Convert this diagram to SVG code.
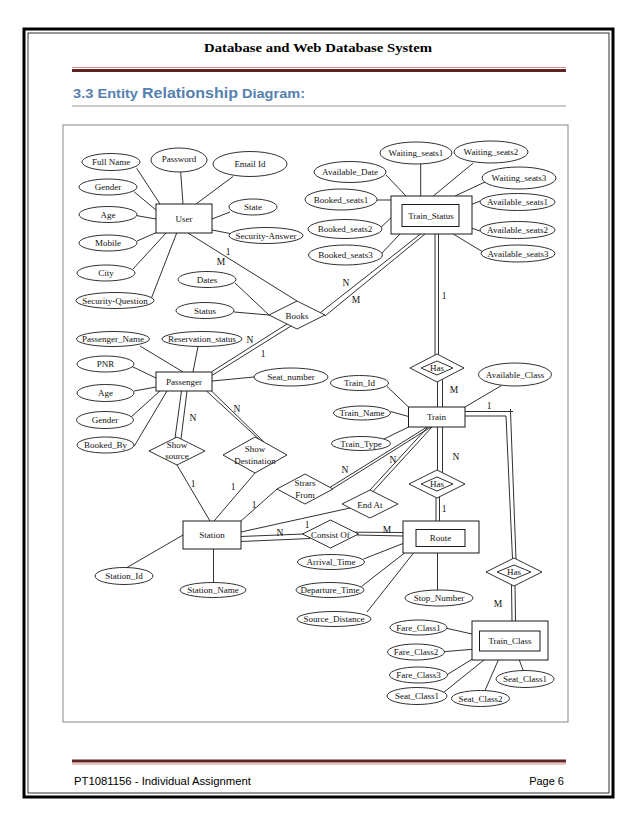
<svg xmlns="http://www.w3.org/2000/svg" width="638" height="826" viewBox="0 0 638 826">
<style>
.ent{fill:#fff;stroke:#1a1a1a;stroke-width:1}
.att{fill:#fff;stroke:#1a1a1a;stroke-width:0.9}
.rel{fill:#fff;stroke:#1a1a1a;stroke-width:0.9}
.ln{stroke:#1a1a1a;stroke-width:0.9;fill:none}
.t{font-family:"Liberation Serif","Times New Roman",serif;font-size:9px;fill:#111;text-anchor:middle}
.lb{font-family:"Liberation Serif","Times New Roman",serif;font-size:9.5px;fill:#111;text-anchor:middle}
</style>
<rect width="638" height="826" fill="#fff"/>
<g id="page">
<rect x="24" y="29" width="589" height="768" fill="none" stroke="#000" stroke-width="3"/>
<rect x="28" y="33" width="581" height="760" fill="none" stroke="#000" stroke-width="0.8"/>
<text x="318" y="52" font-family="Liberation Serif,serif" font-weight="bold" font-size="13" text-anchor="middle" textLength="228" lengthAdjust="spacingAndGlyphs" fill="#000">Database and Web Database System</text>
<line x1="72" y1="67.5" x2="566" y2="67.5" stroke="#c9908c" stroke-width="1"/>
<line x1="72" y1="70.5" x2="566" y2="70.5" stroke="#622423" stroke-width="3"/>
<text x="73" y="98" font-family="Liberation Sans,sans-serif" font-weight="bold" font-size="12.5" fill="#5580b0" textLength="65" lengthAdjust="spacingAndGlyphs">3.3 Entity</text>
<text x="142" y="98" font-family="Liberation Sans,sans-serif" font-weight="bold" font-size="15.5" fill="#5580b0" textLength="96" lengthAdjust="spacingAndGlyphs">Relationship</text>
<text x="242" y="98" font-family="Liberation Sans,sans-serif" font-weight="bold" font-size="12.5" fill="#5580b0" textLength="63" lengthAdjust="spacingAndGlyphs">Diagram:</text>
<line x1="72" y1="106" x2="566" y2="106" stroke="#999" stroke-width="1"/>
<rect x="63" y="125" width="505" height="597" fill="none" stroke="#888" stroke-width="1"/>
<line x1="72" y1="761" x2="566" y2="761" stroke="#622423" stroke-width="3"/>
<line x1="72" y1="764" x2="566" y2="764" stroke="#c9908c" stroke-width="1"/>
<text x="74" y="785" font-family="Liberation Sans,sans-serif" font-size="11" fill="#000" textLength="177" lengthAdjust="spacingAndGlyphs">PT1081156 - Individual Assignment</text>
<text x="564" y="785" font-family="Liberation Sans,sans-serif" font-size="11" fill="#000" text-anchor="end">Page 6</text>
</g>

<g id="connectors">
<line class="ln" x1="136.7" y1="168.3" x2="160" y2="204"/>
<line class="ln" x1="180.7" y1="172" x2="183" y2="204"/>
<line class="ln" x1="233" y1="176.5" x2="196" y2="204"/>
<line class="ln" x1="134" y1="191.7" x2="156" y2="210"/>
<line class="ln" x1="137" y1="215.7" x2="156" y2="219"/>
<line class="ln" x1="137" y1="241" x2="156" y2="232.7"/>
<line class="ln" x1="133" y1="269" x2="166" y2="233"/>
<line class="ln" x1="150" y1="301.7" x2="176.7" y2="233"/>
<line class="ln" x1="212" y1="219" x2="230" y2="212"/>
<line class="ln" x1="212" y1="230" x2="230" y2="233.5"/>
<line class="ln" x1="188" y1="233" x2="297" y2="301"/>
<line class="ln" x1="235" y1="283" x2="269" y2="315"/>
<line class="ln" x1="234" y1="312" x2="269" y2="315"/>
<line class="ln" x1="320.5" y1="312.5" x2="420.5" y2="234"/>
<line class="ln" x1="325" y1="316" x2="425" y2="234"/>
<line class="ln" x1="287" y1="324" x2="212" y2="371.5"/>
<line class="ln" x1="291" y1="326" x2="212" y2="375.4"/>
<line class="ln" x1="420.7" y1="164" x2="420.7" y2="196"/>
<line class="ln" x1="473.3" y1="163" x2="433.3" y2="196"/>
<line class="ln" x1="386" y1="175" x2="406" y2="196"/>
<line class="ln" x1="485" y1="182" x2="455" y2="196"/>
<line class="ln" x1="377" y1="200" x2="391" y2="200"/>
<line class="ln" x1="380" y1="228.3" x2="391" y2="217.7"/>
<line class="ln" x1="381.7" y1="253.3" x2="400" y2="234"/>
<line class="ln" x1="480" y1="201" x2="472" y2="204.3"/>
<line class="ln" x1="480" y1="231" x2="472" y2="228.3"/>
<line class="ln" x1="485" y1="253.3" x2="453.3" y2="234"/>
<line class="ln" x1="435" y1="234" x2="435" y2="355"/>
<line class="ln" x1="438.5" y1="234" x2="438.5" y2="354.8"/>
<line class="ln" x1="437.5" y1="382" x2="437.5" y2="407"/>
<line class="ln" x1="442.5" y1="379.4" x2="442.5" y2="407"/>
<line class="ln" x1="437.5" y1="427" x2="437.5" y2="470.3"/>
<line class="ln" x1="442.5" y1="427" x2="442.5" y2="472.6"/>
<line class="ln" x1="436" y1="498" x2="436" y2="521"/>
<line class="ln" x1="439.5" y1="496.8" x2="439.5" y2="521"/>
<polyline class="ln" points="465,411.5 513,411.5"/>
<polyline class="ln" points="510.5,409 510.5,411.5 516,559"/>
<polyline class="ln" points="465,416 506,416 512.5,559"/>
<line class="ln" x1="511.5" y1="585" x2="512" y2="621"/>
<line class="ln" x1="515" y1="585" x2="515.5" y2="621"/>
<line class="ln" x1="387" y1="386.5" x2="408.5" y2="407"/>
<line class="ln" x1="390.5" y1="411.5" x2="408.5" y2="416.5"/>
<line class="ln" x1="383" y1="439.5" x2="408.5" y2="427"/>
<line class="ln" x1="501.5" y1="385.5" x2="465" y2="407"/>
<line class="ln" x1="427" y1="427" x2="330" y2="487.4"/>
<line class="ln" x1="431" y1="427" x2="333" y2="488.5"/>
<line class="ln" x1="428" y1="427" x2="370" y2="490"/>
<line class="ln" x1="432" y1="427" x2="373" y2="491.5"/>
<line class="ln" x1="140" y1="346" x2="183" y2="372"/>
<line class="ln" x1="198" y1="346.5" x2="193" y2="372"/>
<line class="ln" x1="132" y1="366.5" x2="156" y2="378"/>
<line class="ln" x1="134" y1="391" x2="156" y2="387"/>
<line class="ln" x1="131" y1="417" x2="160" y2="391"/>
<line class="ln" x1="134" y1="446.5" x2="167" y2="391"/>
<line class="ln" x1="212" y1="381" x2="254" y2="377"/>
<line class="ln" x1="181.5" y1="391" x2="175" y2="438"/>
<line class="ln" x1="187" y1="391" x2="181" y2="439"/>
<line class="ln" x1="206.5" y1="391" x2="259" y2="439.3"/>
<line class="ln" x1="211.5" y1="391" x2="264" y2="442"/>
<line class="ln" x1="177" y1="465" x2="210" y2="521"/>
<line class="ln" x1="255" y1="473" x2="214" y2="521"/>
<line class="ln" x1="241" y1="521" x2="277" y2="489"/>
<line class="ln" x1="241" y1="532" x2="350" y2="508"/>
<line class="ln" x1="241" y1="536.5" x2="303" y2="534"/>
<line class="ln" x1="241" y1="541.5" x2="310" y2="538.5"/>
<line class="ln" x1="355" y1="532.2" x2="403" y2="532.5"/>
<line class="ln" x1="357" y1="535" x2="403" y2="536"/>
<line class="ln" x1="127" y1="567.5" x2="183" y2="535"/>
<line class="ln" x1="213.5" y1="549" x2="213.5" y2="582.5"/>
<line class="ln" x1="363.5" y1="559" x2="403" y2="543.5"/>
<line class="ln" x1="361.5" y1="586.5" x2="404.5" y2="553"/>
<line class="ln" x1="367" y1="612" x2="413.5" y2="553"/>
<line class="ln" x1="437.5" y1="553" x2="437.5" y2="590"/>
<line class="ln" x1="446.7" y1="628.3" x2="472" y2="634"/>
<line class="ln" x1="444" y1="651.7" x2="472" y2="649.3"/>
<line class="ln" x1="445" y1="676" x2="472" y2="659.3"/>
<line class="ln" x1="441.7" y1="694" x2="484" y2="660"/>
<line class="ln" x1="485" y1="690.5" x2="498.3" y2="660"/>
<line class="ln" x1="523.3" y1="670.7" x2="519.3" y2="660"/>
</g>

<g id="labels">
<text class="lb" x="228" y="254.5">1</text>
<text class="lb" x="221" y="264.5">M</text>
<text class="lb" x="346" y="285.5">N</text>
<text class="lb" x="356" y="302.5">M</text>
<text class="lb" x="250" y="342.5">N</text>
<text class="lb" x="263" y="356.5">1</text>
<text class="lb" x="444" y="298.5">1</text>
<text class="lb" x="454" y="392.5">M</text>
<text class="lb" x="489" y="408.5">1</text>
<text class="lb" x="456" y="459.5">N</text>
<text class="lb" x="444" y="511.5">1</text>
<text class="lb" x="498" y="606.5">M</text>
<text class="lb" x="193" y="420.5">N</text>
<text class="lb" x="237" y="411.5">N</text>
<text class="lb" x="193" y="486.5">1</text>
<text class="lb" x="233" y="489.5">1</text>
<text class="lb" x="254" y="507.5">1</text>
<text class="lb" x="345" y="472.5">N</text>
<text class="lb" x="393" y="462.5">N</text>
<text class="lb" x="307" y="527.5">1</text>
<text class="lb" x="280" y="535.5">N</text>
<text class="lb" x="387" y="532.5">M</text>
</g>

<g id="user"><rect class="ent" x="156" y="204" width="56" height="29"/><text class="t" x="184" y="222">User</text></g>
<g id="train_status"><rect class="ent" x="391" y="196" width="81" height="38"/><rect class="ent" x="402" y="204.5" width="57" height="22"/><text class="t" x="431" y="219">Train_Status</text></g>
<g id="passenger"><rect class="ent" x="156" y="372" width="56" height="19"/><text class="t" x="184" y="384.5">Passenger</text></g>
<g id="train"><rect class="ent" x="408.5" y="407" width="56.5" height="20"/><text class="t" x="436.5" y="420">Train</text></g>
<g id="station"><rect class="ent" x="183" y="521" width="58" height="28"/><text class="t" x="212" y="538">Station</text></g>
<g id="route"><rect class="ent" x="403" y="521" width="76" height="32"/><rect class="ent" x="416" y="529.5" width="49" height="17"/><text class="t" x="440.5" y="541">Route</text></g>
<g id="train_class"><rect class="ent" x="472" y="621" width="76" height="39"/><rect class="ent" x="479.5" y="631" width="60.5" height="20"/><text class="t" x="510" y="644">Train_Class</text></g>

<g id="books"><polygon class="rel" points="297,301 325,315 297,329 269,315"/><text class="t" x="297" y="318.5">Books</text></g>
<g id="has_status"><polygon class="rel" points="437,354 464,368 437,382 410,368"/><polygon class="rel" points="437,361 453,368 437,375 421,368"/><text class="t" x="437" y="371">Has</text></g>
<g id="has_route"><polygon class="rel" points="437,470 465,484 437,498 409,484"/><polygon class="rel" points="437,477 453,484 437,491 421,484"/><text class="t" x="437" y="487">Has</text></g>
<g id="has_class"><polygon class="rel" points="514,558 542,572 514,586 486,572"/><polygon class="rel" points="514,565 531,572 514,579 497,572"/><text class="t" x="514" y="575">Has</text></g>
<g id="show_source"><polygon class="rel" points="177,437 205,451 177,465 149,451"/><text class="t" x="177" y="448">Show</text><text class="t" x="177" y="459">source</text></g>
<g id="show_destination"><polygon class="rel" points="255,437 287,455 255,473 223,455"/><text class="t" x="255" y="452">Show</text><text class="t" x="255" y="463.5">Destination</text></g>
<g id="strars_from"><polygon class="rel" points="305,474 333,489 305,504 277,489"/><text class="t" x="305" y="486">Strars</text><text class="t" x="305" y="497.5">From</text></g>
<g id="end_at"><polygon class="rel" points="370,490 398,504 370,518 342,504"/><text class="t" x="370" y="507.5">End At</text></g>
<g id="consist_of"><polygon class="rel" points="330.5,520 358.5,534 330.5,548 302.5,534"/><text class="t" x="330.5" y="537.5">Consist Of</text></g>

<g id="a_fullname"><ellipse class="att" cx="111" cy="162" rx="29" ry="8.5"/><text class="t" x="111" y="165.3">Full Name</text></g>
<g id="a_password"><ellipse class="att" cx="179" cy="160" rx="28" ry="12"/><text class="t" x="179" y="162.3">Password</text></g>
<g id="a_email"><ellipse class="att" cx="250" cy="164" rx="37" ry="12.5"/><text class="t" x="250" y="167.3">Email Id</text></g>
<g id="a_user_gender"><ellipse class="att" cx="108" cy="187" rx="29" ry="8"/><text class="t" x="108" y="190.3">Gender</text></g>
<g id="a_user_age"><ellipse class="att" cx="108" cy="214.5" rx="29" ry="8"/><text class="t" x="108" y="217.8">Age</text></g>
<g id="a_mobile"><ellipse class="att" cx="108" cy="243" rx="29" ry="8"/><text class="t" x="108" y="246.3">Mobile</text></g>
<g id="a_city"><ellipse class="att" cx="106" cy="273" rx="29" ry="8"/><text class="t" x="106" y="276.3">City</text></g>
<g id="a_secq"><ellipse class="att" cx="115" cy="300.5" rx="39" ry="8"/><text class="t" x="115" y="303.8">Security-Question</text></g>
<g id="a_state"><ellipse class="att" cx="253" cy="207" rx="24" ry="8"/><text class="t" x="253" y="210.3">State</text></g>
<g id="a_seca"><ellipse class="att" cx="266" cy="235.5" rx="37" ry="8"/><text class="t" x="266" y="238.8">Security-Answer</text></g>
<g id="a_dates"><ellipse class="att" cx="207" cy="279.5" rx="29" ry="8"/><text class="t" x="207" y="282.8">Dates</text></g>
<g id="a_status"><ellipse class="att" cx="205" cy="310.5" rx="29" ry="8"/><text class="t" x="205" y="313.8">Status</text></g>

<g id="a_ws1"><ellipse class="att" cx="416" cy="153" rx="36" ry="11"/><text class="t" x="416" y="156.3">Waiting_seats1</text></g>
<g id="a_ws2"><ellipse class="att" cx="491" cy="152" rx="37" ry="11"/><text class="t" x="491" y="155.3">Waiting_seats2</text></g>
<g id="a_avdate"><ellipse class="att" cx="350" cy="172" rx="36" ry="10.5"/><text class="t" x="350" y="175.3">Available_Date</text></g>
<g id="a_ws3"><ellipse class="att" cx="519" cy="178" rx="37" ry="11"/><text class="t" x="519" y="181.3">Waiting_seats3</text></g>
<g id="a_bs1"><ellipse class="att" cx="341" cy="199.5" rx="36" ry="10.5"/><text class="t" x="341" y="202.8">Booked_seats1</text></g>
<g id="a_bs2"><ellipse class="att" cx="345" cy="229" rx="37" ry="9.5"/><text class="t" x="345" y="232.3">Booked_seats2</text></g>
<g id="a_bs3"><ellipse class="att" cx="345.5" cy="255" rx="37" ry="10"/><text class="t" x="345.5" y="258.3">Booked_seats3</text></g>
<g id="a_as1"><ellipse class="att" cx="517.5" cy="202" rx="37.5" ry="8.5"/><text class="t" x="517.5" y="205.3">Available_seats1</text></g>
<g id="a_as2"><ellipse class="att" cx="517.5" cy="230" rx="37.5" ry="8.5"/><text class="t" x="517.5" y="233.3">Available_seats2</text></g>
<g id="a_as3"><ellipse class="att" cx="518" cy="253.5" rx="37" ry="8.5"/><text class="t" x="518" y="256.8">Available_seats3</text></g>

<g id="a_pname"><ellipse class="att" cx="113" cy="339" rx="36.5" ry="7.5"/><text class="t" x="113" y="342.3">Passenger_Name</text></g>
<g id="a_resstatus"><ellipse class="att" cx="202" cy="339" rx="40" ry="7.5"/><text class="t" x="202" y="342.3">Reservation_status</text></g>
<g id="a_pnr"><ellipse class="att" cx="105.5" cy="364" rx="28.5" ry="8"/><text class="t" x="105.5" y="367.3">PNR</text></g>
<g id="a_page"><ellipse class="att" cx="105.5" cy="393" rx="28.5" ry="8.5"/><text class="t" x="105.5" y="396.3">Age</text></g>
<g id="a_pgender"><ellipse class="att" cx="105" cy="420" rx="28.5" ry="8.5"/><text class="t" x="105" y="423.3">Gender</text></g>
<g id="a_bookedby"><ellipse class="att" cx="105.5" cy="445" rx="28.5" ry="8"/><text class="t" x="105.5" y="448.3">Booked_By</text></g>
<g id="a_seatnumber"><ellipse class="att" cx="291" cy="377" rx="37" ry="9"/><text class="t" x="291" y="380.3">Seat_number</text></g>

<g id="a_trainid"><ellipse class="att" cx="359.5" cy="383" rx="29" ry="7.5"/><text class="t" x="359.5" y="386.3">Train_Id</text></g>
<g id="a_trainname"><ellipse class="att" cx="362" cy="413" rx="28.5" ry="7"/><text class="t" x="362" y="416.3">Train_Name</text></g>
<g id="a_traintype"><ellipse class="att" cx="361" cy="443.5" rx="29.5" ry="7"/><text class="t" x="361" y="446.8">Train_Type</text></g>
<g id="a_avclass"><ellipse class="att" cx="515" cy="374.5" rx="36.5" ry="11.5"/><text class="t" x="515" y="377.8">Available_Class</text></g>

<g id="a_stationid"><ellipse class="att" cx="124" cy="576" rx="29" ry="8.5"/><text class="t" x="124" y="579.3">Station_Id</text></g>
<g id="a_stationname"><ellipse class="att" cx="213" cy="590" rx="33" ry="7.5"/><text class="t" x="213" y="593.3">Station_Name</text></g>

<g id="a_arrival"><ellipse class="att" cx="331" cy="562" rx="33.5" ry="7.5"/><text class="t" x="331" y="565.3">Arrival_Time</text></g>
<g id="a_departure"><ellipse class="att" cx="330" cy="590" rx="34" ry="7.5"/><text class="t" x="330" y="593.3">Departure_Time</text></g>
<g id="a_srcdist"><ellipse class="att" cx="334" cy="619" rx="37" ry="7.5"/><text class="t" x="334" y="622.3">Source_Distance</text></g>
<g id="a_stopnumber"><ellipse class="att" cx="439" cy="598" rx="34" ry="8"/><text class="t" x="439" y="601.3">Stop_Number</text></g>

<g id="a_fare1"><ellipse class="att" cx="418.5" cy="627.5" rx="28.5" ry="7.5"/><text class="t" x="418.5" y="630.8">Fare_Class1</text></g>
<g id="a_fare2"><ellipse class="att" cx="416" cy="652" rx="28.5" ry="8"/><text class="t" x="416" y="655.3">Fare_Class2</text></g>
<g id="a_fare3"><ellipse class="att" cx="418.5" cy="675" rx="29" ry="8"/><text class="t" x="418.5" y="678.3">Fare_Class3</text></g>
<g id="a_seat1l"><ellipse class="att" cx="417" cy="696" rx="30" ry="8.5"/><text class="t" x="417" y="699.3">Seat_Class1</text></g>
<g id="a_seat2"><ellipse class="att" cx="480.5" cy="698.5" rx="29" ry="8"/><text class="t" x="480.5" y="701.8">Seat_Class2</text></g>
<g id="a_seat1r"><ellipse class="att" cx="525" cy="679" rx="29" ry="8.5"/><text class="t" x="525" y="682.3">Seat_Class1</text></g>
</svg>
